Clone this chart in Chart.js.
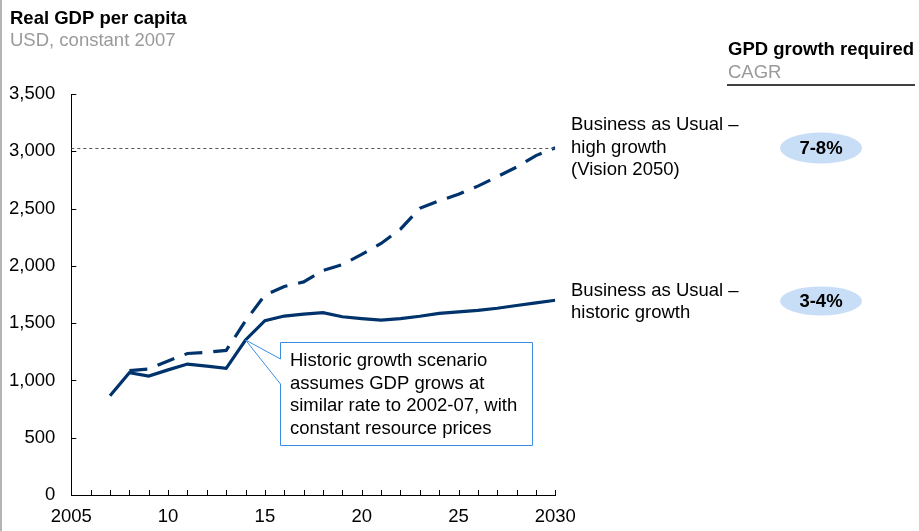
<!DOCTYPE html>
<html>
<head>
<meta charset="utf-8">
<script src="https://cdn.jsdelivr.net/npm/chart.js@4"></script>
<style>
  html, body { margin: 0; padding: 0; background: #fff; }
  #wrap { position: relative; width: 919px; height: 531px; }
  canvas { display: block; }
</style>
</head>
<body>
<div id="wrap"><canvas id="c" width="919" height="531"></canvas></div>
<script>
// ---- data ----
const years = [2007, 2008, 2009, 2010, 2011, 2012, 2013, 2014, 2015, 2016, 2017, 2018,
               2019, 2020, 2021, 2022, 2023, 2024, 2025, 2026, 2027, 2028, 2029, 2030];
const historicGrowth = [866, 1067, 1038, 1092, 1143, 1125, 1105, 1353, 1521, 1562, 1579, 1591,
                        1556, 1540, 1527, 1540, 1560, 1585, 1598, 1612, 1630, 1654, 1677, 1700];
const highGrowth = [null, 1085, 1100, 1170, 1235, 1245, 1262, 1520, 1745, 1820, 1860, 1960,
                    2010, 2100, 2195, 2320, 2502, 2568, 2625, 2696, 2778, 2862, 2962, 3030];
const xTickLabels = ['2005', '10', '15', '20', '25', '2030'];
const yTickValues = [0, 500, 1000, 1500, 2000, 2500, 3000, 3500];
const targetValue = 3030;       // dotted reference level (Vision 2050)
const calloutYear = 2014;       // historic point the callout refers to
const highLabel = ['Business as Usual –', 'high growth', '(Vision 2050)'];
const histLabel = ['Business as Usual –', 'historic growth'];
const cagrLabels = ['7-8%', '3-4%'];
const calloutText = ['Historic growth scenario', 'assumes GDP grows at',
                     'similar rate to 2002-07, with', 'constant resource prices'];

const FONT = "'Liberation Sans', Arial, Helvetica, sans-serif";
const NAVY = '#00336b';

const toPts = (vals) => years.map((y, i) => ({ x: y, y: vals[i] }));

const decor = {
  id: 'decor',
  afterDraw(chart) {
    const ctx = chart.ctx;
    const xs = chart.scales.x, ys = chart.scales.y;
    const area = chart.chartArea;
    ctx.save();

    // left grey frame line
    ctx.strokeStyle = '#b4b4b4';
    ctx.lineWidth = 2;
    ctx.beginPath(); ctx.moveTo(1, 0); ctx.lineTo(1, 531); ctx.stroke();

    // tick marks: x ticks upward each year, y ticks inward
    ctx.strokeStyle = '#000';
    ctx.lineWidth = 1;
    ctx.beginPath();
    for (let yr = 2006; yr <= 2030; yr++) {
      const px = Math.round(xs.getPixelForValue(yr)) + 0.5;
      ctx.moveTo(px, area.bottom); ctx.lineTo(px, area.bottom - 5);
    }
    yTickValues.forEach(v => {
      const py = Math.round(ys.getPixelForValue(v)) + 0.5;
      ctx.moveTo(area.left, py); ctx.lineTo(area.left + 5, py);
    });
    ctx.stroke();

    // dotted reference line
    const ry = Math.round(ys.getPixelForValue(targetValue)) + 0.5;
    ctx.strokeStyle = '#555';
    ctx.setLineDash([3, 3]);
    ctx.beginPath(); ctx.moveTo(area.left, ry); ctx.lineTo(xs.getPixelForValue(2030), ry); ctx.stroke();
    ctx.setLineDash([]);

    // titles
    ctx.textBaseline = 'alphabetic';
    ctx.textAlign = 'left';
    ctx.fillStyle = '#000';
    ctx.font = 'bold 18.5px ' + FONT;
    ctx.fillText('Real GDP per capita', 10, 24);
    ctx.fillStyle = '#9a9a9a';
    ctx.font = '18.5px ' + FONT;
    ctx.fillText('USD, constant 2007', 10, 46);

    ctx.fillStyle = '#000';
    ctx.font = 'bold 18.5px ' + FONT;
    ctx.fillText('GPD growth required', 728, 55);
    ctx.fillStyle = '#9a9a9a';
    ctx.font = '18.5px ' + FONT;
    ctx.fillText('CAGR', 728, 78);
    ctx.strokeStyle = '#000';
    ctx.lineWidth = 1.5;
    ctx.beginPath(); ctx.moveTo(727, 85); ctx.lineTo(915, 85); ctx.stroke();

    // series labels
    ctx.fillStyle = '#000';
    ctx.font = '18.5px ' + FONT;
    highLabel.forEach((t, i) => ctx.fillText(t, 571, 130 + i * 22.7));
    histLabel.forEach((t, i) => ctx.fillText(t, 571, 296 + i * 22.3));

    // CAGR ellipses
    const ell = [[821, 148, 41, 15.5], [821, 301, 41, 14.5]];
    ell.forEach((e, i) => {
      ctx.fillStyle = '#c8def6';
      ctx.beginPath(); ctx.ellipse(e[0], e[1], e[2], e[3], 0, 0, Math.PI * 2); ctx.fill();
      ctx.fillStyle = '#000';
      ctx.font = 'bold 18.5px ' + FONT;
      ctx.textAlign = 'center';
      ctx.textBaseline = 'middle';
      ctx.fillText(cagrLabels[i], e[0], e[1] + 1);
    });

    // callout box
    const bx0 = 280.5, by0 = 342.5, bx1 = 532.5, by1 = 445.5;
    const idx = years.indexOf(calloutYear);
    const ax = xs.getPixelForValue(calloutYear), ay = ys.getPixelForValue(historicGrowth[idx]);
    ctx.strokeStyle = '#3b8de0';
    ctx.lineWidth = 1;
    ctx.beginPath();
    ctx.moveTo(bx0, 359); ctx.lineTo(bx0, by0); ctx.lineTo(bx1, by0); ctx.lineTo(bx1, by1);
    ctx.lineTo(bx0, by1); ctx.lineTo(bx0, 384);
    ctx.moveTo(bx0, 359); ctx.lineTo(ax, ay); ctx.lineTo(bx0, 384);
    ctx.stroke();
    ctx.fillStyle = '#000';
    ctx.textAlign = 'left';
    ctx.textBaseline = 'alphabetic';
    ctx.font = '18.5px ' + FONT;
    calloutText.forEach((t, i) => ctx.fillText(t, 290, 366 + i * 22.5));

    ctx.restore();
  }
};

new Chart(document.getElementById('c'), {
  type: 'line',
  data: {
    datasets: [
      { label: 'Business as Usual – high growth', data: toPts(highGrowth),
        borderColor: NAVY, borderWidth: 3.2, borderDash: [18, 11], pointRadius: 0,
        tension: 0, spanGaps: false, fill: false },
      { label: 'Business as Usual – historic growth', data: toPts(historicGrowth),
        borderColor: NAVY, borderWidth: 3.2, pointRadius: 0, tension: 0, fill: false }
    ]
  },
  options: {
    responsive: false,
    animation: false,
    devicePixelRatio: 1,
    layout: { padding: { top: 94, right: 919 - 555.3, left: 0, bottom: 0 } },
    plugins: { legend: { display: false }, tooltip: { enabled: false } },
    scales: {
      x: {
        type: 'linear', min: 2005, max: 2030,
        grid: { drawOnChartArea: false, drawTicks: false },
        border: { display: true, color: '#000', width: 1 },
        ticks: {
          stepSize: 5, padding: 11, color: '#000', maxRotation: 0, autoSkip: false,
          font: { family: FONT, size: 18.5 },
          callback: (v) => xTickLabels[Math.round((v - 2005) / 5)]
        },
        afterFit: (s) => { s.height = 36; }
      },
      y: {
        min: 0, max: 3500,
        grid: { drawOnChartArea: false, drawTicks: false },
        border: { display: true, color: '#000', width: 1 },
        ticks: {
          stepSize: 500, padding: 16, color: '#000',
          font: { family: FONT, size: 18.5 },
          callback: (v) => v.toLocaleString('en-US')
        },
        afterFit: (s) => { s.width = 71.3; }
      }
    }
  },
  plugins: [decor]
});
</script>
</body>
</html>
